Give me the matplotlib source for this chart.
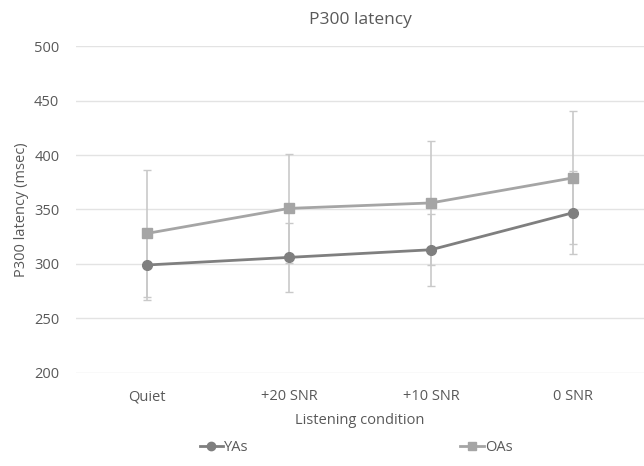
import numpy as np
import matplotlib
matplotlib.use('Agg')
import matplotlib.pyplot as plt
from matplotlib.lines import Line2D

plt.rcParams['font.family'] = ['Open Sans', 'DejaVu Sans']

# Data
conditions = ['Quiet', '+20 SNR', '+10 SNR', '0 SNR']
yas_mean = [299, 306, 313, 347]
yas_sd = [32, 32, 33, 38]
oas_mean = [328, 351, 356, 379]
oas_sd = [58, 50, 57, 61]

text_col = '#595959'
yas_col = '#7f7f7f'
oas_col = '#a5a5a5'
x = np.arange(len(conditions))

fig = plt.figure(figsize=(6.44, 4.66), dpi=100)
ax = fig.add_axes([0.118, 0.2, 0.882, 0.701])

ax.errorbar(x, yas_mean, yerr=yas_sd, color=yas_col, ecolor='#c9c9c9',
            elinewidth=1.2, capsize=3, capthick=1, marker='o', markersize=7,
            linewidth=2, zorder=3)
ax.errorbar(x, oas_mean, yerr=oas_sd, color=oas_col, ecolor='#c9c9c9',
            elinewidth=1.2, capsize=3, capthick=1, marker='s', markersize=7,
            linewidth=2, zorder=3)

ax.set_xlim(-0.5, 3.5)
ax.set_ylim(200, 500)
ax.set_yticks(range(200, 501, 50))
ax.set_xticks(x)
ax.set_xticklabels(conditions)
ax.grid(axis='y', color='#e3e3e3', linewidth=1)
ax.set_axisbelow(True)
for s in ax.spines.values():
    s.set_visible(False)
ax.tick_params(length=0, colors=text_col, labelsize=10.5, pad=12)

ax.set_title('P300 latency', color=text_col, fontsize=12.5, pad=16)
ax.set_xlabel('Listening condition', color=text_col, fontsize=10.5, labelpad=6)
ax.set_ylabel('P300 latency (msec)', color=text_col, fontsize=10.5, labelpad=4)

handles = [Line2D([], [], color=yas_col, marker='o', markersize=6, linewidth=2),
           Line2D([], [], color=oas_col, marker='s', markersize=6, linewidth=2)]
leg = fig.legend(handles, ['YAs', 'OAs'], loc='lower center',
                 bbox_to_anchor=(0.553, -0.005), ncol=2, frameon=False,
                 fontsize=10.5, handlelength=1.6, handletextpad=0.1,
                 columnspacing=14.5)
for t in leg.get_texts():
    t.set_color(text_col)

fig.savefig('out.png', dpi=100)
